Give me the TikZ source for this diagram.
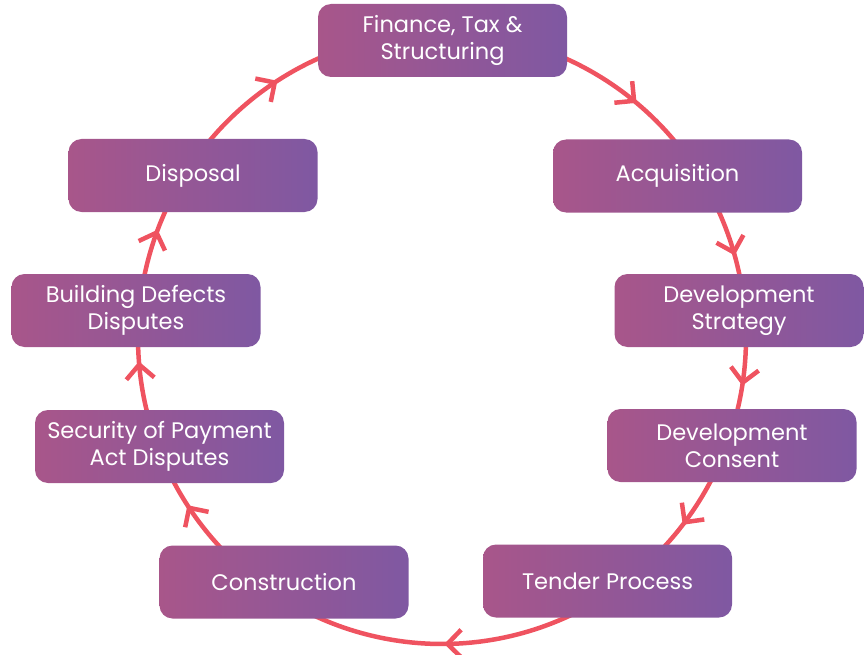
\documentclass[tikz,border=0pt]{standalone}
\usepackage{fontspec}
\setmainfont{Poppins}
\usetikzlibrary{decorations.markings}
\definecolor{ring}{HTML}{EF5360}
\definecolor{boxL}{HTML}{A8568A}
\definecolor{boxR}{HTML}{7F58A2}
\begin{document}
\begin{tikzpicture}[x=1pt,y=-1pt,
  stage/.style={rounded corners=13pt, left color=boxL, right color=boxR,
    minimum width=249pt, minimum height=73pt, text=white, align=center,
    font=\fontsize{22.5}{27}\selectfont, inner sep=0pt, draw=none},
  chev/.style={ring, line width=4.5pt},
  ringline/.style={ring, line width=4.5pt}]
\useasboundingbox (0,0) rectangle (864,655);
\draw[ringline, postaction={decorate}, decoration={markings,
  mark=at position 0.0233 with {\draw[chev] (-14pt,14pt) -- (0pt,0pt) -- (-14pt,-14pt);},
  mark=at position 0.1031 with {\draw[chev] (-14pt,14pt) -- (0pt,0pt) -- (-14pt,-14pt);},
  mark=at position 0.2472 with {\draw[chev] (-14pt,14pt) -- (0pt,0pt) -- (-14pt,-14pt);},
  mark=at position 0.4061 with {\draw[chev] (-14pt,14pt) -- (0pt,0pt) -- (-14pt,-14pt);},
  mark=at position 0.4861 with {\draw[chev] (-14pt,14pt) -- (0pt,0pt) -- (-14pt,-14pt);},
  mark=at position 0.5561 with {\draw[chev] (-14pt,14pt) -- (0pt,0pt) -- (-14pt,-14pt);},
  mark=at position 0.6575 with {\draw[chev] (-14pt,14pt) -- (0pt,0pt) -- (-14pt,-14pt);},
  mark=at position 0.8586 with {\draw[chev] (-14pt,14pt) -- (0pt,0pt) -- (-14pt,-14pt);},
  mark=at position 0.9547 with {\draw[chev] (-14pt,14pt) -- (0pt,0pt) -- (-14pt,-14pt);}
  }] plot[domain=0:360, samples=240, smooth] ({442+304*cos(\x)},{338+306*sin(\x)}) -- cycle;

\node[stage] (fin) at (442.5,40.5) {Finance, Tax \&\\Structuring};
\node[stage] (acq) at (677.5,176) {Acquisition};
\node[stage] (str) at (739,310.5) {Development\\Strategy};
\node[stage] (con) at (732,445.5) {Development\\Consent};
\node[stage] (ten) at (607.5,581) {Tender Process};
\node[stage] (cst) at (284,582) {Construction};
\node[stage] (sec) at (159.5,446.5) {Security of Payment\\Act Disputes};
\node[stage] (bld) at (136,310.5) {Building Defects\\Disputes};
\node[stage] (dis) at (193,175.5) {Disposal};
\end{tikzpicture}
\end{document}
